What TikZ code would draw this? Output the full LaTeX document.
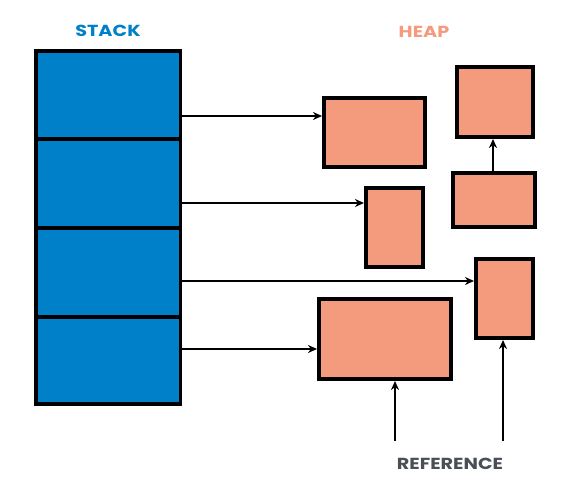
\documentclass[tikz,border=0pt]{standalone}
\usepackage{fontspec}
\setmainfont{Poppins}
\newfontfamily\widefont[FakeStretch=1.2]{Poppins}
\usetikzlibrary{arrows.meta}
\definecolor{stackblue}{RGB}{0,128,200}
\definecolor{heapsalmon}{RGB}{245,155,125}
\definecolor{refgray}{RGB}{74,79,87}
\tikzset{
  cell/.style={draw=black, line width=3.5pt, fill=stackblue, inner sep=0pt, outer sep=1.75pt, minimum width=144.5pt},
  heapbox/.style={draw=black, line width=4pt, fill=heapsalmon, inner sep=0pt, outer sep=2pt},
  arr/.style={line width=1.8pt, -{Stealth[length=9pt,width=8pt]}},
  title/.style={font=\widefont\bfseries\fontsize{16}{16}\selectfont, inner sep=0pt}
}
\begin{document}
\begin{tikzpicture}[x=1pt,y=-1pt]
\useasboundingbox (0,0) rectangle (568,500);
% stack cells
\node[cell, minimum height=88pt] (s1) at (108,95) {};
\node[cell, minimum height=89pt] (s2) at (108,183.5) {};
\node[cell, minimum height=89pt] (s3) at (108,272.5) {};
\node[cell, minimum height=87pt] (s4) at (108,360.5) {};
% heap boxes
\node[heapbox, minimum width=101pt, minimum height=69pt] (a) at (374.5,132.5) {};
\node[heapbox, minimum width=57pt, minimum height=79pt] (b) at (394.5,227.5) {};
\node[heapbox, minimum width=76pt, minimum height=70pt] (c) at (495,102) {};
\node[heapbox, minimum width=82pt, minimum height=54pt] (d) at (494,200) {};
\node[heapbox, minimum width=57pt, minimum height=79pt] (e) at (504.5,298.5) {};
\node[heapbox, minimum width=132pt, minimum height=80pt] (f) at (385,339) {};
% titles
\node[title, text=stackblue] (tstack) at (108,31) {STACK};
\node[title, text=heapsalmon] (theap) at (424,32) {HEAP};
\node[title, text=refgray] (tref) at (450,464) {REFERENCE};
% arrows stack -> heap
\draw[arr] (s1.east |- 0,116) -- (a.west |- 0,116);
\draw[arr] (s2.east |- 0,203) -- (b.west |- 0,203);
\draw[arr] (s3.east |- 0,281) -- (e.west |- 0,281);
\draw[arr] (s4.east |- 0,349) -- (f.west |- 0,349);
% heap internal
\draw[arr] (d.north -| 493,0) -- (c.south -| 493,0);
% references
\coordinate (r1) at (395,441);
\coordinate (r2) at (503,441);
\draw[arr] (r1) -- (f.south -| r1);
\draw[arr] (r2) -- (e.south -| r2);
\end{tikzpicture}
\end{document}
